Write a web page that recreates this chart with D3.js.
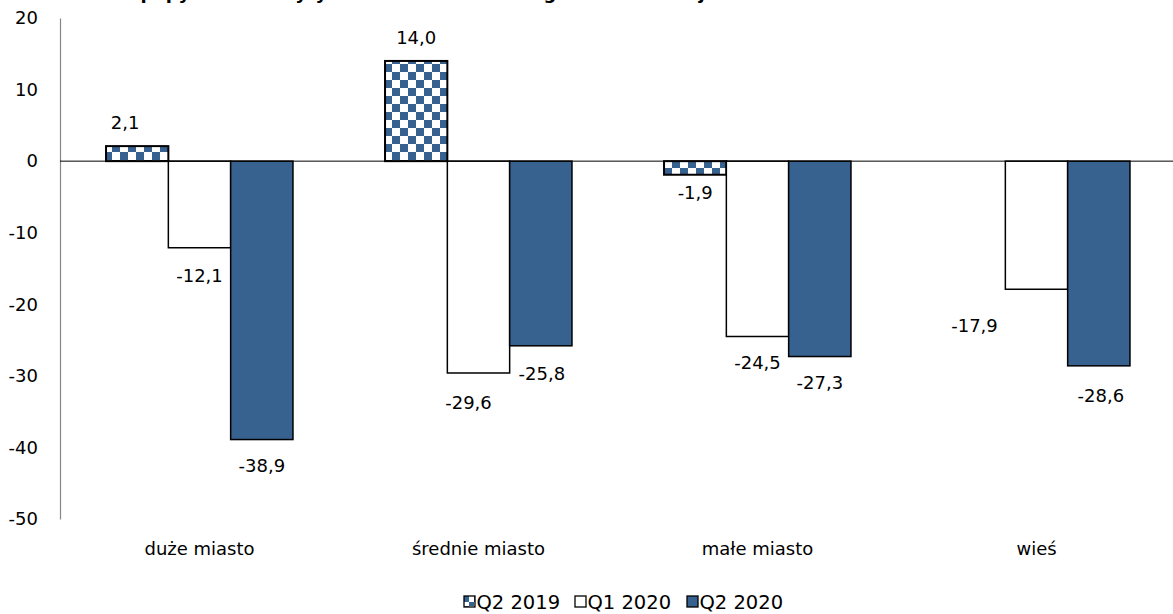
<!DOCTYPE html>
<html><head><meta charset="utf-8">
<script src="https://cdn.jsdelivr.net/npm/d3@7"></script>
<style>body{margin:0;background:#fff}svg{display:block}text{font-family:"DejaVu Sans",Verdana,sans-serif}</style>
</head><body><svg id="c" width="1173" height="614"></svg>
<script>
const categories = ["duże miasto", "średnie miasto", "małe miasto", "wieś"];
const seriesNames = ["Q2 2019", "Q1 2020", "Q2 2020"];
const q2_2019 = [2.1, 14.0, -1.9, null];
const q1_2020 = [-12.1, -29.6, -24.5, -17.9];
const q2_2020 = [-38.9, -25.8, -27.3, -28.6];
const yTicks = [20, 10, 0, -10, -20, -30, -40, -50];
const titleText = "Zmiana popytu na kredyty mieszkaniowe według wielkości miejsca zamieszkania";
// manual label nudges (px) as in the original
const labelDx = [[-12, 0, 0], [0, -10, 1], [0, 0, 0], [0, -62, 2]];
const labelDy = [[0, 2, 0], [0, 4, 2], [-8, 0, 0], [0, 10, 4]];

const svg = d3.select("#c");
const W = 1173, H = 614;
const m = {left: 60, right: -3, top: 18, bottom: 95};
const x0 = d3.scaleBand().domain(categories).range([m.left, W - m.right]).paddingInner(0.33).paddingOuter(0.165);
const x1 = d3.scaleBand().domain(seriesNames).range([0, x0.bandwidth()]);
const y = d3.scaleLinear().domain([-50, 20]).range([H - m.bottom, m.top]);

const blue = "#37618f";
const defs = svg.append("defs");
const pat = defs.append("pattern").attr("id", "chk").attr("patternUnits", "userSpaceOnUse")
  .attr("width", 16).attr("height", 16).attr("x", 0).attr("y", 0);
pat.append("rect").attr("width", 16).attr("height", 16).attr("fill", "#fff");
pat.append("rect").attr("width", 8).attr("height", 8).attr("fill", blue);
pat.append("rect").attr("x", 8).attr("y", 8).attr("width", 8).attr("height", 8).attr("fill", blue);
const patL = defs.append("pattern").attr("id", "chkL").attr("patternUnits", "userSpaceOnUse")
  .attr("width", 10).attr("height", 10);
patL.append("rect").attr("width", 10).attr("height", 10).attr("fill", "#fff");
patL.append("rect").attr("width", 5).attr("height", 6).attr("fill", blue);
patL.append("rect").attr("x", 5).attr("y", 6).attr("width", 5).attr("height", 4).attr("fill", blue);

// title (cut off at top in original)
svg.append("text").attr("x", 470).attr("y", -1.5).attr("text-anchor", "middle")
  .attr("font-size", 18).attr("font-weight", "bold").attr("fill", "#000").text(titleText);

const FS = 18;
// y axis
const yAxis = d3.axisLeft(y).tickValues(yTicks).tickSize(0).tickPadding(0).tickFormat(d3.format("d"));
const ga = svg.append("g").attr("transform", `translate(${m.left},0)`).call(yAxis);
ga.select(".domain").attr("stroke", "#868686").attr("stroke-width", 1.2);
ga.selectAll("text").attr("font-size", FS).attr("fill", "#000").attr("x", -22)
  .attr("font-family", "DejaVu Sans, Verdana, sans-serif").attr("text-anchor", "end")
  .text(d => d < 0 ? "-" + Math.abs(d) : d);

const series = [q2_2019, q1_2020, q2_2020];
const fills = ["url(#chk)", "#fff", blue];
const data = [];
categories.forEach((c, i) => series.forEach((s, j) => {
  if (s[i] !== null) data.push({c, i, j, v: s[i]});
}));

svg.append("g").selectAll("rect").data(data).join("rect")
  .attr("x", d => x0(d.c) + x1(seriesNames[d.j]))
  .attr("y", d => y(Math.max(0, d.v)))
  .attr("width", x1.bandwidth())
  .attr("height", d => Math.abs(y(d.v) - y(0)))
  .attr("fill", d => fills[d.j])
  .attr("stroke", "#000").attr("stroke-width", d => d.j === 0 ? 2 : 1.5);

// zero line
svg.append("line").attr("x1", m.left).attr("x2", W).attr("y1", y(0)).attr("y2", y(0))
  .attr("stroke", "#000").attr("stroke-width", 1);

const fmt = v => d3.format(".1f")(v).replace(".", ",").replace("−", "-");
svg.append("g").selectAll("text").data(data).join("text")
  .attr("x", d => x0(d.c) + x1(seriesNames[d.j]) + x1.bandwidth() / 2 + labelDx[d.i][d.j])
  .attr("y", d => (d.v >= 0 ? y(d.v) - 23 : y(d.v) + 26) + labelDy[d.i][d.j])
  .attr("dy", "0.35em").attr("text-anchor", "middle").attr("font-size", FS).attr("fill", "#000")
  .text(d => fmt(d.v));

// category labels
svg.append("g").selectAll("text").data(categories).join("text")
  .attr("x", d => x0(d) + x0.bandwidth() / 2).attr("y", 549).attr("dy", "0.35em")
  .attr("text-anchor", "middle").attr("font-size", FS).attr("fill", "#000").text(d => d);

// legend
const legX = [464, 575, 687];
const lg = svg.append("g");
seriesNames.forEach((n, j) => {
  const g = lg.append("g").attr("transform", `translate(${legX[j]},596)`);
  g.append("rect").attr("x", 0).attr("y", 0).attr("width", 11).attr("height", 11)
    .attr("fill", j === 0 ? "url(#chkL)" : fills[j]).attr("stroke", "#000").attr("stroke-width", 1.3);
  g.append("text").attr("x", 12.5).attr("y", 5.5).attr("dy", "0.36em").attr("font-size", 19.5)
    .attr("fill", "#000").text(n);
});
</script></body></html>
